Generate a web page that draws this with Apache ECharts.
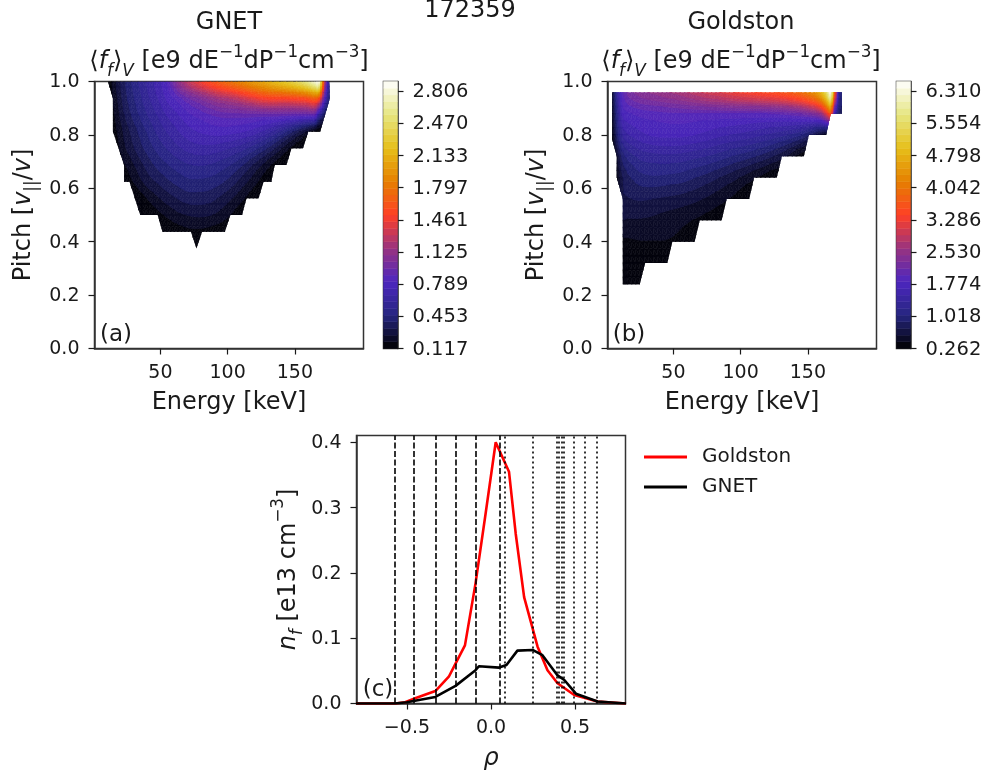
<!DOCTYPE html>
<html>
<head>
<meta charset="utf-8">
<title>172359</title>
<script src="https://cdn.jsdelivr.net/npm/echarts@6/dist/echarts.min.js"></script>
<style>
  html, body { margin: 0; padding: 0; background: #fff; }
  #chart { width: 986px; height: 772px; }
</style>
</head>
<body>
<div id="chart"></div>
<script>
// values

// (a) GNET, energy [keV] / pitch nodes and <f_f>_V table
const gnetEnergy = [11, 15, 23, 31, 39, 47, 55, 63, 71, 79, 87, 95, 103, 111, 119, 127, 135, 143, 151, 159, 165, 168, 172, 176];
const gnetPitch = [1.0, 0.9375, 0.875, 0.8125, 0.75, 0.6875, 0.625, 0.5625, 0.5, 0.4375, 0.375];
const gnetValues = [
  [.12, .22, .38, .5, .6, .7, .82, 1.1, 1.3, 1.45, 1.58, 1.7, 1.8, 1.9, 2.0, 2.08, 2.2, 2.3, 2.42, 2.6, 2.8, 2.85, 1.3, .45],
  [.12, .2, .36, .47, .57, .66, .76, .85, .95, 1.03, 1.12, 1.2, 1.25, 1.33, 1.42, 1.5, 1.52, 1.52, 1.55, 1.6, 1.7, 1.6, .85, .4],
  [.11, .17, .32, .43, .52, .6, .68, .74, .8, .84, .88, .91, .92, .92, .92, .92, .92, .91, .9, .9, .9, .6, .35, .2],
  [.11, .15, .27, .37, .46, .54, .61, .67, .72, .75, .77, .78, .77, .75, .72, .66, .58, .48, .36, .24, .14, .12, .12, .12],
  [.11, .12, .24, .33, .41, .48, .54, .59, .63, .65, .65, .63, .6, .56, .5, .42, .33, .22, .14, .12, .12, .12, .12, .12],
  [.11, .11, .18, .26, .34, .41, .46, .5, .53, .54, .53, .5, .46, .4, .32, .24, .16, .12, .12, .12, .12, .12, .12, .12],
  [.11, .11, .13, .2, .28, .33, .38, .42, .45, .45, .44, .41, .36, .29, .22, .15, .12, .12, .12, .12, .12, .12, .12, .12],
  [.11, .11, .11, .12, .18, .24, .29, .33, .36, .36, .35, .31, .26, .2, .14, .12, .12, .12, .12, .12, .12, .12, .12, .12],
  [.11, .11, .11, .11, .12, .16, .2, .24, .26, .27, .26, .23, .18, .13, .12, .12, .12, .12, .12, .12, .12, .12, .12, .12],
  [.11, .11, .11, .11, .11, .12, .13, .15, .17, .17, .16, .14, .12, .12, .12, .12, .12, .12, .12, .12, .12, .12, .12, .12],
  [.12, .12, .12, .12, .12, .12, .12, .12, .12, .12, .12, .12, .12, .12, .12, .12, .12, .12, .12, .12, .12, .12, .12, .12]
];
// edge of the masked region
const gnetEdgeE = [11, 14.7, 14.7, 23, 23, 27, 35, 48, 51.5, 72.7, 76.8, 81, 98, 102, 110.7, 114, 123, 126.7, 132.5, 135, 143.7, 147.5, 156, 160, 168.8, 176, 175.5];
const gnetEdgeP = [1.0, 0.9375, 0.8125, 0.6875, 0.625, 0.625, 0.5, 0.5, 0.4375, 0.4375, 0.375, 0.4375, 0.4375, 0.5, 0.5, 0.5625, 0.5625, 0.625, 0.625, 0.6875, 0.6875, 0.75, 0.75, 0.8125, 0.8125, 0.9375, 1.0];
const gnetTicks = ['0.117', '0.453', '0.789', '1.125', '1.461', '1.797', '2.133', '2.470', '2.806'];

// (b) Goldston
const goldEnergy = [4, 8, 12, 16, 25, 35, 45, 55, 65, 75, 85, 95, 105, 115, 125, 135, 145, 155, 160, 164, 167, 170, 173, 176];
const goldPitch = [0.96, 0.88, 0.80, 0.72, 0.64, 0.56, 0.48, 0.40, 0.32, 0.24];
const goldValues = [
  [.5, 1.3, 1.9, 2.2, 2.4, 2.5, 2.6, 2.7, 2.85, 3.0, 3.1, 3.25, 3.35, 3.45, 3.55, 3.7, 3.95, 4.4, 4.9, 5.6, 6.4, 3.8, 1.4, .9],
  [.45, 1.1, 1.7, 1.8, 1.88, 1.92, 1.95, 1.97, 1.98, 1.98, 1.98, 1.98, 1.98, 1.98, 2.0, 2.05, 2.15, 2.35, 2.6, 3.2, 3.6, 1.6, .9, .8],
  [.35, .9, 1.35, 1.5, 1.62, 1.7, 1.72, 1.72, 1.68, 1.62, 1.55, 1.5, 1.45, 1.38, 1.3, 1.2, 1.05, .75, .55, .4, .3, .28, .27, .27],
  [.27, .55, .95, 1.1, 1.25, 1.3, 1.32, 1.3, 1.25, 1.2, 1.12, 1.03, .95, .85, .72, .55, .33, .27, .27, .27, .27, .27, .27, .27],
  [.27, .4, .72, .85, .98, 1.02, 1.0, .97, .9, .82, .72, .62, .5, .38, .28, .27, .27, .27, .27, .27, .27, .27, .27, .27],
  [.27, .3, .68, .72, .75, .73, .7, .67, .62, .55, .47, .38, .28, .27, .27, .27, .27, .27, .27, .27, .27, .27, .27, .27],
  [.27, .27, .55, .56, .56, .54, .5, .46, .41, .36, .3, .27, .27, .27, .27, .27, .27, .27, .27, .27, .27, .27, .27, .27],
  [.27, .27, .38, .39, .41, .41, .41, .38, .34, .3, .27, .27, .27, .27, .27, .27, .27, .27, .27, .27, .27, .27, .27, .27],
  [.27, .27, .3, .3, .3, .29, .27, .27, .27, .27, .27, .27, .27, .27, .27, .27, .27, .27, .27, .27, .27, .27, .27, .27],
  [.27, .27, .27, .27, .27, .27, .27, .27, .27, .27, .27, .27, .27, .27, .27, .27, .27, .27, .27, .27, .27, .27, .27, .27]
];
const goldEdgeE = [4.4, 4.4, 7.9, 7.9, 12.4, 12.4, 25, 29, 45.5, 49.2, 65.8, 69.6, 85.9, 89.6, 106.4, 110, 126.9, 130.7, 147, 150.8, 163.5, 167, 175.3, 175.3];
const goldEdgeP = [0.96, 0.785, 0.72, 0.64, 0.56, 0.24, 0.24, 0.32, 0.32, 0.40, 0.40, 0.48, 0.48, 0.56, 0.56, 0.64, 0.64, 0.72, 0.72, 0.80, 0.80, 0.88, 0.88, 0.96];
const goldTicks = ['0.262', '1.018', '1.774', '2.530', '3.286', '4.042', '4.798', '5.554', '6.310'];

// (c) density profiles
const goldstonRho = [-.803, -.571, -.511, -.451, -.331, -.251, -.211, -.155, -.092, -.032, .028, .107, .147, .197, .277, .336, .396, .495, .634, .803];
const goldstonN = [0, 0, .002, .008, .019, .041, .061, .089, .184, .291, .400, .355, .260, .163, .087, .051, .031, .013, .003, 0];
const gnetRho = [-.803, -.571, -.501, -.331, -.211, -.092, -.072, .048, .092, .157, .247, .306, .396, .436, .505, .634, .803];
const gnetN = [0, 0, .002, .010, .027, .051, .057, .055, .059, .081, .082, .074, .043, .036, .015, .003, 0];
const dashedRho = [-.571, -.455, -.334, -.213, -.094, .05];
const dottedRho = [.079, .246, .389, .403, .417, .429, .489, .562, .632];

const energyTicks = [50, 100, 150];
const pitchTicks = [0, 0.2, 0.4, 0.6, 0.8, 1.0];
const rhoTicks = [-0.5, 0, 0.5];
const densityTicks = [0, 0.1, 0.2, 0.3, 0.4];

const FONT = 'DejaVu Sans';
const INK = '#1a1a1a';
const TICK = 19;
const LABEL = 24;
const N_LEVELS = 40;
const N_SUB = 3;
const BAR_TOP = 8.3; // colorbar runs a little past its last tick

// CMRmap
const cmap = [[0, 0, 0], [.15, .15, .5], [.3, .15, .75], [.6, .2, .5], [1, .25, .15], [.9, .5, 0], [.9, .75, .1], [.9, .9, .5], [1, 1, 1]];
function cmapColor(t) {
  const s = Math.min(t, 0.9999) * 8;
  const i = Math.floor(s);
  const c = cmap[i].map((v, k) => Math.round((v + (cmap[i + 1][k] - v) * (s - i)) * 255));
  return `rgb(${c[0]},${c[1]},${c[2]})`;
}

// clip a triangle [x, y, value] to one side of a contour level
function clipBand(poly, lo, keepAbove) {
  const out = [];
  for (let i = 0; i < poly.length; i++) {
    const a = poly[i];
    const b = poly[(i + 1) % poly.length];
    const aIn = keepAbove ? a[2] >= lo : a[2] <= lo;
    const bIn = keepAbove ? b[2] >= lo : b[2] <= lo;
    if (aIn) out.push(a);
    if (aIn !== bIn) {
      const t = (lo - a[2]) / (b[2] - a[2]);
      out.push([a[0] + (b[0] - a[0]) * t, a[1] + (b[1] - a[1]) * t, lo]);
    }
  }
  return out;
}

const spline = (a, b, c, d, t) =>
  0.5 * (2 * b + (c - a) * t + (2 * a - 5 * b + 4 * c - d) * t * t + (3 * b - a - 3 * c + d) * t * t * t);

function contourSeries(xIdx, energy, pitch, values, edgeE, edgeP, vMin, vMax) {
  const step = (vMax - vMin) / N_LEVELS;
  const nE = energy.length;
  const nP = pitch.length;
  const cell = (a, b) => values[Math.max(0, Math.min(nP - 1, b))][Math.max(0, Math.min(nE - 1, a))];
  // smooth value inside a table quad, kept within the quad's own corner values
  const surface = (i, j, u, v) => {
    const row = [];
    for (let b = -1; b <= 2; b++) {
      row.push(spline(cell(i - 1, j + b), cell(i, j + b), cell(i + 1, j + b), cell(i + 2, j + b), u));
    }
    const z = spline(row[0], row[1], row[2], row[3], v);
    const corners = [cell(i, j), cell(i + 1, j), cell(i, j + 1), cell(i + 1, j + 1)];
    return Math.max(Math.min(...corners), Math.min(Math.max(...corners), z));
  };
  const quads = [];
  for (let j = 0; j < nP - 1; j++) {
    for (let i = 0; i < nE - 1; i++) {
      quads.push([energy[i], pitch[j], i, j]);
    }
  }
  return {
    type: 'custom',
    xAxisIndex: xIdx,
    yAxisIndex: xIdx,
    silent: true,
    animation: false,
    clip: true,
    data: quads,
    encode: { x: 0, y: 1 },
    renderItem: (params, api) => {
      const i = api.value(2);
      const j = api.value(3);
      const children = [];
      const point = (su, sv) => {
        const u = su / N_SUB;
        const v = sv / N_SUB;
        return [
          energy[i] + (energy[i + 1] - energy[i]) * u,
          pitch[j] + (pitch[j + 1] - pitch[j]) * v,
          surface(i, j, u, v)
        ];
      };
      for (let su = 0; su < N_SUB; su++) {
        for (let sv = 0; sv < N_SUB; sv++) {
          const q = [point(su, sv), point(su + 1, sv), point(su + 1, sv + 1), point(su, sv + 1)];
          [[q[0], q[1], q[2]], [q[0], q[2], q[3]]].forEach((tri) => {
            const low = Math.min(tri[0][2], tri[1][2], tri[2][2]);
            const high = Math.max(tri[0][2], tri[1][2], tri[2][2]);
            // values outside the level range fall in the first or last band
            const kFrom = Math.max(0, Math.min(N_LEVELS - 1, Math.floor((low - vMin) / step)));
            const kTo = Math.max(0, Math.min(N_LEVELS - 1, Math.floor((high - vMin) / step)));
            for (let k = kFrom; k <= kTo; k++) {
              let poly = tri;
              if (k > 0) poly = clipBand(poly, vMin + k * step, true);
              if (poly.length && k < N_LEVELS - 1) poly = clipBand(poly, vMin + (k + 1) * step, false);
              if (poly.length < 3) continue;
              const fill = cmapColor((k + 0.5) / N_LEVELS);
              children.push({
                type: 'polygon',
                shape: { points: poly.map((p) => api.coord([p[0], p[1]])) },
                style: { fill: fill, stroke: fill, lineWidth: 0.6 }
              });
            }
          });
        }
      }
      return {
        type: 'group',
        clipPath: {
          type: 'polygon',
          shape: { points: edgeE.map((e, n) => api.coord([e, edgeP[n]])) }
        },
        children: children
      };
    }
  };
}

function colorbarSeries(idx) {
  const bands = [];
  for (let k = 0; k < N_LEVELS; k++) bands.push(k);
  return {
    type: 'custom',
    xAxisIndex: idx,
    yAxisIndex: idx,
    silent: true,
    animation: false,
    data: bands,
    encode: { y: 0 },
    renderItem: (params, api) => {
      const k = api.value(0);
      const p0 = api.coord([0, (k * BAR_TOP) / N_LEVELS]);
      const p1 = api.coord([1, ((k + 1) * BAR_TOP) / N_LEVELS]);
      const fill = cmapColor((k + 0.5) / N_LEVELS);
      return {
        type: 'rect',
        shape: { x: p0[0], y: p1[1], width: p1[0] - p0[0], height: p0[1] - p1[1] },
        style: { fill: fill, stroke: fill, lineWidth: 0.5 }
      };
    }
  };
}

const mathRich = (s) => ({
  n: { fontFamily: FONT, fontSize: s, lineHeight: s * 1.5, color: INK },
  i: { fontFamily: FONT, fontSize: s, lineHeight: s * 1.5, fontStyle: 'italic', color: INK },
  sub: { fontFamily: FONT, fontSize: s * 0.7, lineHeight: s * 1.5, fontStyle: 'italic', verticalAlign: 'bottom', color: INK },
  sup: { fontFamily: FONT, fontSize: s * 0.7, lineHeight: s * 1.5, verticalAlign: 'top', color: INK }
});

const fluxTitle = '{n|⟨}{i|f}{sub|f}{n|⟩}{sub|V}{n| [e9 dE}{sup|−1}{n|dP}{sup|−1}{n|cm}{sup|−3}{n|]}';
const pitchName = '{n|Pitch [}{i|v}{sub|||}{n|/}{i|v}{n|]}';

function titleText(text, x, y, size) {
  return {
    text: text,
    left: x,
    top: y,
    textAlign: 'center',
    padding: 0,
    textStyle: { fontFamily: FONT, fontSize: size, fontWeight: 'normal', color: INK, rich: mathRich(size) }
  };
}

// labels hang from the tick, pulled back up so their centre sits just under it
const xTickLabel = { fontFamily: FONT, fontSize: TICK, color: INK, margin: 15 };
const yTickLabel = { fontFamily: FONT, fontSize: TICK, color: INK, margin: 15, verticalAlign: 'top', lineHeight: 16, padding: [-7, 0, 0, 0] };
const barTickLabel = { fontFamily: FONT, fontSize: 19.5, color: INK, margin: 15, verticalAlign: 'top', lineHeight: 16, padding: [-7, 0, 0, 0] };
const tickLine = { show: true, length: 6, lineStyle: { color: INK, width: 1.2 } };
const spine = { lineStyle: { color: '#333', width: 1.5 } };

function energyAxis(idx) {
  return {
    type: 'value', gridIndex: idx, min: 1, max: 201,
    name: 'Energy [keV]', nameLocation: 'middle', nameGap: 42,
    nameTextStyle: { fontFamily: FONT, fontSize: LABEL, color: INK },
    splitLine: { show: false },
    axisLine: Object.assign({ onZero: false }, spine),
    axisTick: Object.assign({ customValues: energyTicks }, tickLine),
    axisLabel: Object.assign({ customValues: energyTicks }, xTickLabel)
  };
}
function pitchAxis(idx) {
  return {
    type: 'value', gridIndex: idx, min: 0, max: 1,
    name: pitchName, nameLocation: 'middle', nameGap: 53,
    nameTextStyle: { rich: mathRich(LABEL) },
    splitLine: { show: false },
    axisLine: Object.assign({ onZero: false }, spine),
    axisTick: Object.assign({ customValues: pitchTicks }, tickLine),
    axisLabel: Object.assign({ customValues: pitchTicks, formatter: (v) => v.toFixed(1) }, yTickLabel)
  };
}
function barAxes(idx, labels) {
  const positions = labels.map((l, i) => i);
  return {
    x: {
      type: 'value', gridIndex: idx, min: 0, max: 1, show: false
    },
    y: {
      type: 'value', gridIndex: idx, min: 0, max: BAR_TOP, position: 'right',
      splitLine: { show: false },
      axisLine: Object.assign({ show: true, onZero: false }, spine),
      axisTick: Object.assign({ customValues: positions }, tickLine),
      axisLabel: Object.assign({ customValues: positions, formatter: (v) => labels[v] }, barTickLabel)
    }
  };
}

const barA = barAxes(3, gnetTicks);
const barB = barAxes(4, goldTicks);
const gridBorder = { show: true, borderColor: '#333', borderWidth: 1.5, backgroundColor: '#fff' };

const vLines = dashedRho.map((v) => ({ xAxis: v, lineStyle: { type: [6, 2.5] } }))
  .concat(dottedRho.map((v) => ({ xAxis: v, lineStyle: { type: [2, 3] } })));

const chart = echarts.init(document.getElementById('chart'), null, { renderer: 'canvas' });
chart.setOption({
  animation: false,
  backgroundColor: '#fff',
  title: [
    titleText('172359', 470, -1, 24),
    titleText('GNET', 229, 11, LABEL),
    titleText(fluxTitle, 229, 44, LABEL),
    titleText('Goldston', 741, 11, LABEL),
    titleText(fluxTitle, 741, 44, LABEL),
    titleText('(a)', 116, 324, 23),
    titleText('(b)', 629, 324, 23),
    titleText('(c)', 378, 679, 23)
  ],
  grid: [
    Object.assign({ left: 94.5, top: 81.5, width: 269, height: 267 }, gridBorder),
    Object.assign({ left: 607.5, top: 81.5, width: 269, height: 267 }, gridBorder),
    Object.assign({ left: 356.5, top: 435.5, width: 269, height: 268 }, gridBorder),
    Object.assign({ left: 383.5, top: 81.5, width: 14, height: 267 }, gridBorder),
    Object.assign({ left: 896.5, top: 81.5, width: 14, height: 267 }, gridBorder)
  ],
  xAxis: [
    energyAxis(0),
    energyAxis(1),
    {
      type: 'value', gridIndex: 2, min: -0.8, max: 0.8,
      name: 'ρ', nameLocation: 'middle', nameGap: 43,
      nameTextStyle: { fontFamily: FONT, fontSize: LABEL, fontStyle: 'italic', color: INK },
      splitLine: { show: false },
      axisLine: Object.assign({ onZero: false }, spine),
      axisTick: Object.assign({ customValues: rhoTicks }, tickLine),
      axisLabel: Object.assign({ customValues: rhoTicks, formatter: (v) => v.toFixed(1).replace('-', '−') }, xTickLabel)
    },
    barA.x,
    barB.x
  ],
  yAxis: [
    pitchAxis(0),
    pitchAxis(1),
    {
      type: 'value', gridIndex: 2, min: 0, max: 0.4104,
      name: '{i|n}{sub|f}{n| [e13 cm}{sup|−3}{n|]}', nameLocation: 'middle', nameGap: 50,
      nameTextStyle: { rich: mathRich(LABEL) },
      splitLine: { show: false },
      axisLine: Object.assign({ onZero: false }, spine),
      axisTick: Object.assign({ customValues: densityTicks }, tickLine),
      axisLabel: Object.assign({ customValues: densityTicks, formatter: (v) => v.toFixed(1) }, yTickLabel)
    },
    barA.y,
    barB.y
  ],
  legend: {
    data: ['Goldston', 'GNET'],
    orient: 'vertical',
    left: 639,
    top: 442,
    itemWidth: 43,
    itemHeight: 3,
    itemGap: 10,
    icon: 'rect',
    textStyle: { fontFamily: FONT, fontSize: 20, color: INK, padding: [0, 0, 0, 10], lineHeight: 18 }
  },
  series: [
    contourSeries(0, gnetEnergy, gnetPitch, gnetValues, gnetEdgeE, gnetEdgeP, 0.117, 2.906),
    contourSeries(1, goldEnergy, goldPitch, goldValues, goldEdgeE, goldEdgeP, 0.262, 6.537),
    colorbarSeries(3),
    colorbarSeries(4),
    {
      name: 'Goldston',
      type: 'line',
      xAxisIndex: 2,
      yAxisIndex: 2,
      data: goldstonRho.map((r, i) => [r, goldstonN[i]]),
      symbol: 'none',
      itemStyle: { color: '#ff0000' },
      lineStyle: { color: '#ff0000', width: 2.6 },
      markLine: {
        silent: true,
        symbol: ['none', 'none'],
        label: { show: false },
        lineStyle: { color: '#000', width: 1.6 },
        data: vLines
      }
    },
    {
      name: 'GNET',
      type: 'line',
      xAxisIndex: 2,
      yAxisIndex: 2,
      data: gnetRho.map((r, i) => [r, gnetN[i]]),
      symbol: 'none',
      itemStyle: { color: '#000' },
      lineStyle: { color: '#000', width: 2.6 }
    }
  ]
});
</script>
</body>
</html>
